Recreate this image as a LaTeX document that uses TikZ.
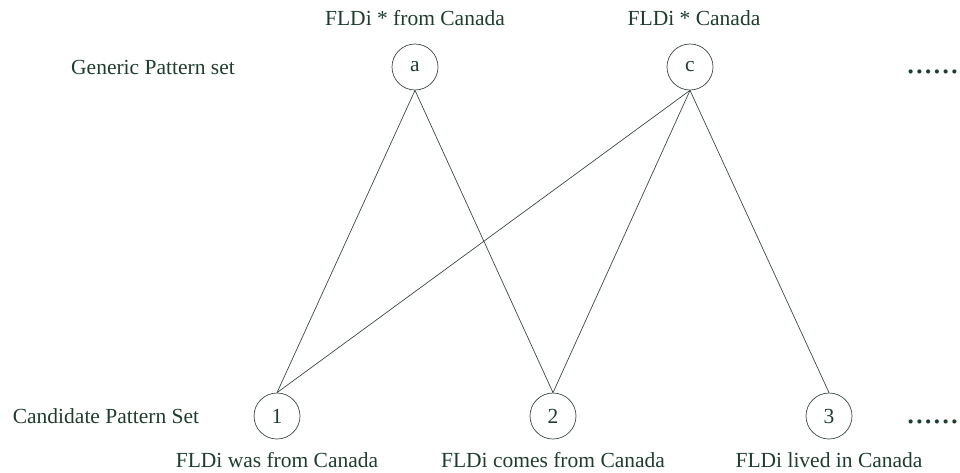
\documentclass[tikz,border=0pt]{standalone}
\usepackage{fontspec}
\setmainfont{Liberation Serif}
\definecolor{txt}{HTML}{1F3D2E}
\definecolor{ln}{HTML}{3A4A42}
\begin{document}
\begin{tikzpicture}[x=1pt,y=-1pt,
  every node/.style={text=txt,font=\fontsize{21.5}{24}\selectfont},
  vert/.style={circle,draw=ln,line width=0.7pt,minimum size=46pt,inner sep=0pt},
  edge/.style={draw=ln,line width=0.7pt},
  lbl/.style={inner sep=0pt,anchor=center},
  dots/.style={inner sep=0pt,anchor=base east,font=\fontsize{35}{35}\selectfont}]
\useasboundingbox (0,0) rectangle (960,472);
\node[vert] (a) at (415,67) {a};
\node[vert] (c) at (690,67) {c};
\node[vert] (n1) at (277,416) {1};
\node[vert] (n2) at (553,416) {2};
\node[vert] (n3) at (829,416) {3};
\node[lbl] (la) at (415,18) {FLDi * from Canada};
\node[lbl] (lc) at (694,18) {FLDi * Canada};
\node[lbl] (gen) at (153,67) {Generic Pattern set};
\node[lbl] (cand) at (106,416) {Candidate Pattern Set};
\node[lbl] (l1) at (277,460) {FLDi was from Canada};
\node[lbl] (l2) at (553,460) {FLDi comes from Canada};
\node[lbl] (l3) at (829,460) {FLDi lived in Canada};
\node[dots] (d1) at (959,73.5) {......};
\node[dots] (d2) at (959,423.5) {......};
\draw[edge] (a.south) -- (n1.north);
\draw[edge] (a.south) -- (n2.north);
\draw[edge] (c.south) -- (n1.north);
\draw[edge] (c.south) -- (n2.north);
\draw[edge] (c.south) -- (n3.north);
\end{tikzpicture}
\end{document}
